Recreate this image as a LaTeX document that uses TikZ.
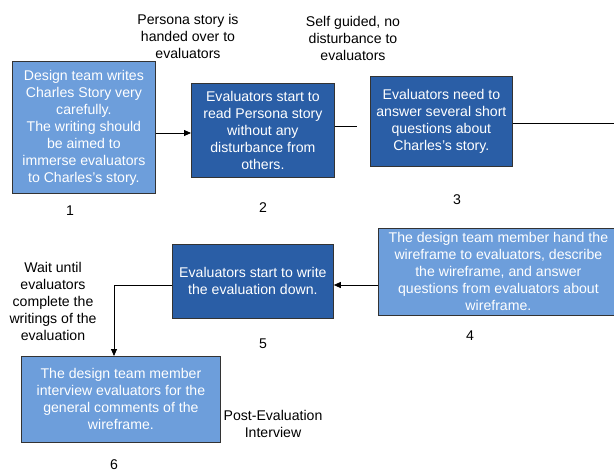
\documentclass[tikz,border=0pt]{standalone}
\usepackage{fontspec}
\setmainfont{Liberation Sans}
\usetikzlibrary{arrows.meta}
\definecolor{lightb}{HTML}{6D9EDB}
\definecolor{darkb}{HTML}{2A5EA6}
\definecolor{edge}{HTML}{333333}
\begin{document}
\begin{tikzpicture}[x=1pt,y=-1pt,
  box/.style={draw=edge,line width=0.8pt,text=white,align=center,inner sep=0pt,anchor=north west,
    font=\fontsize{14.1}{17}\selectfont},
  lbox/.style={box,fill=lightb},
  dbox/.style={box,fill=darkb},
  lab/.style={align=center,font=\fontsize{14.1}{17}\selectfont,text=black},
  conn/.style={draw=black,line width=0.8pt},
  arr/.style={conn,-{Triangle[length=7pt,width=6pt]}}]
\useasboundingbox (0,0) rectangle (614,472);
\node[lbox,minimum width=143pt,minimum height=132pt] (b1) at (12,61)
  {Design team writes\\Charles Story very\\carefully.\\The writing should\\be aimed to\\immerse evaluators\\to Charles’s story.};
\node[dbox,minimum width=143pt,minimum height=94pt] (b2) at (191,83)
  {Evaluators start to\\read Persona story\\without any\\disturbance from\\others.};
\node[dbox,minimum width=142pt,minimum height=90pt] (b3) at (370,76)
  {Evaluators need to\\answer several short\\questions about\\Charles’s story.};
\node[lbox,minimum width=240pt,minimum height=87pt] (b4) at (378,228)
  {The design team member hand the\\wireframe to evaluators, describe\\the wireframe, and answer\\questions from evaluators about\\wireframe.};
\node[dbox,minimum width=161pt,minimum height=74pt] (b5) at (172,244)
  {Evaluators start to write\\the evaluation down.};
\node[lbox,minimum width=199pt,minimum height=86pt] (b6) at (21,356)
  {The design team member\\interview evaluators for the\\general comments of the\\wireframe.};
\node[lab] (n1) at (70,211) {1};
\node[lab] (n2) at (263,208) {2};
\node[lab] (n3) at (457,200) {3};
\node[lab] (n4) at (470,336) {4};
\node[lab] (n5) at (263,344) {5};
\node[lab] (n6) at (114,465) {6};
\node[lab] (t1) at (188,36) {Persona story is\\handed over to\\evaluators};
\node[lab] (t2) at (353,38) {Self guided, no\\disturbance to\\evaluators};
\node[lab] (t3) at (53,301) {Wait until\\evaluators\\complete the\\writings of the\\evaluation};
\node[lab] (t4) at (273,424) {Post-Evaluation\\Interview};
\coordinate (s23) at (357,126);
\coordinate (s3r) at (614,123);
\draw[arr] (b1.east |- 0,133) -- (b2.west |- 0,133);
\draw[conn] (b2.east |- s23) -- (s23);
\draw[conn] (b3.east |- s3r) -- (s3r);
\draw[arr] (b4.west |- 0,285) -- (b5.east |- 0,285);
\draw[arr] (b5.west |- 0,285) -| (b6.north -| 114,0);
\end{tikzpicture}
\end{document}
